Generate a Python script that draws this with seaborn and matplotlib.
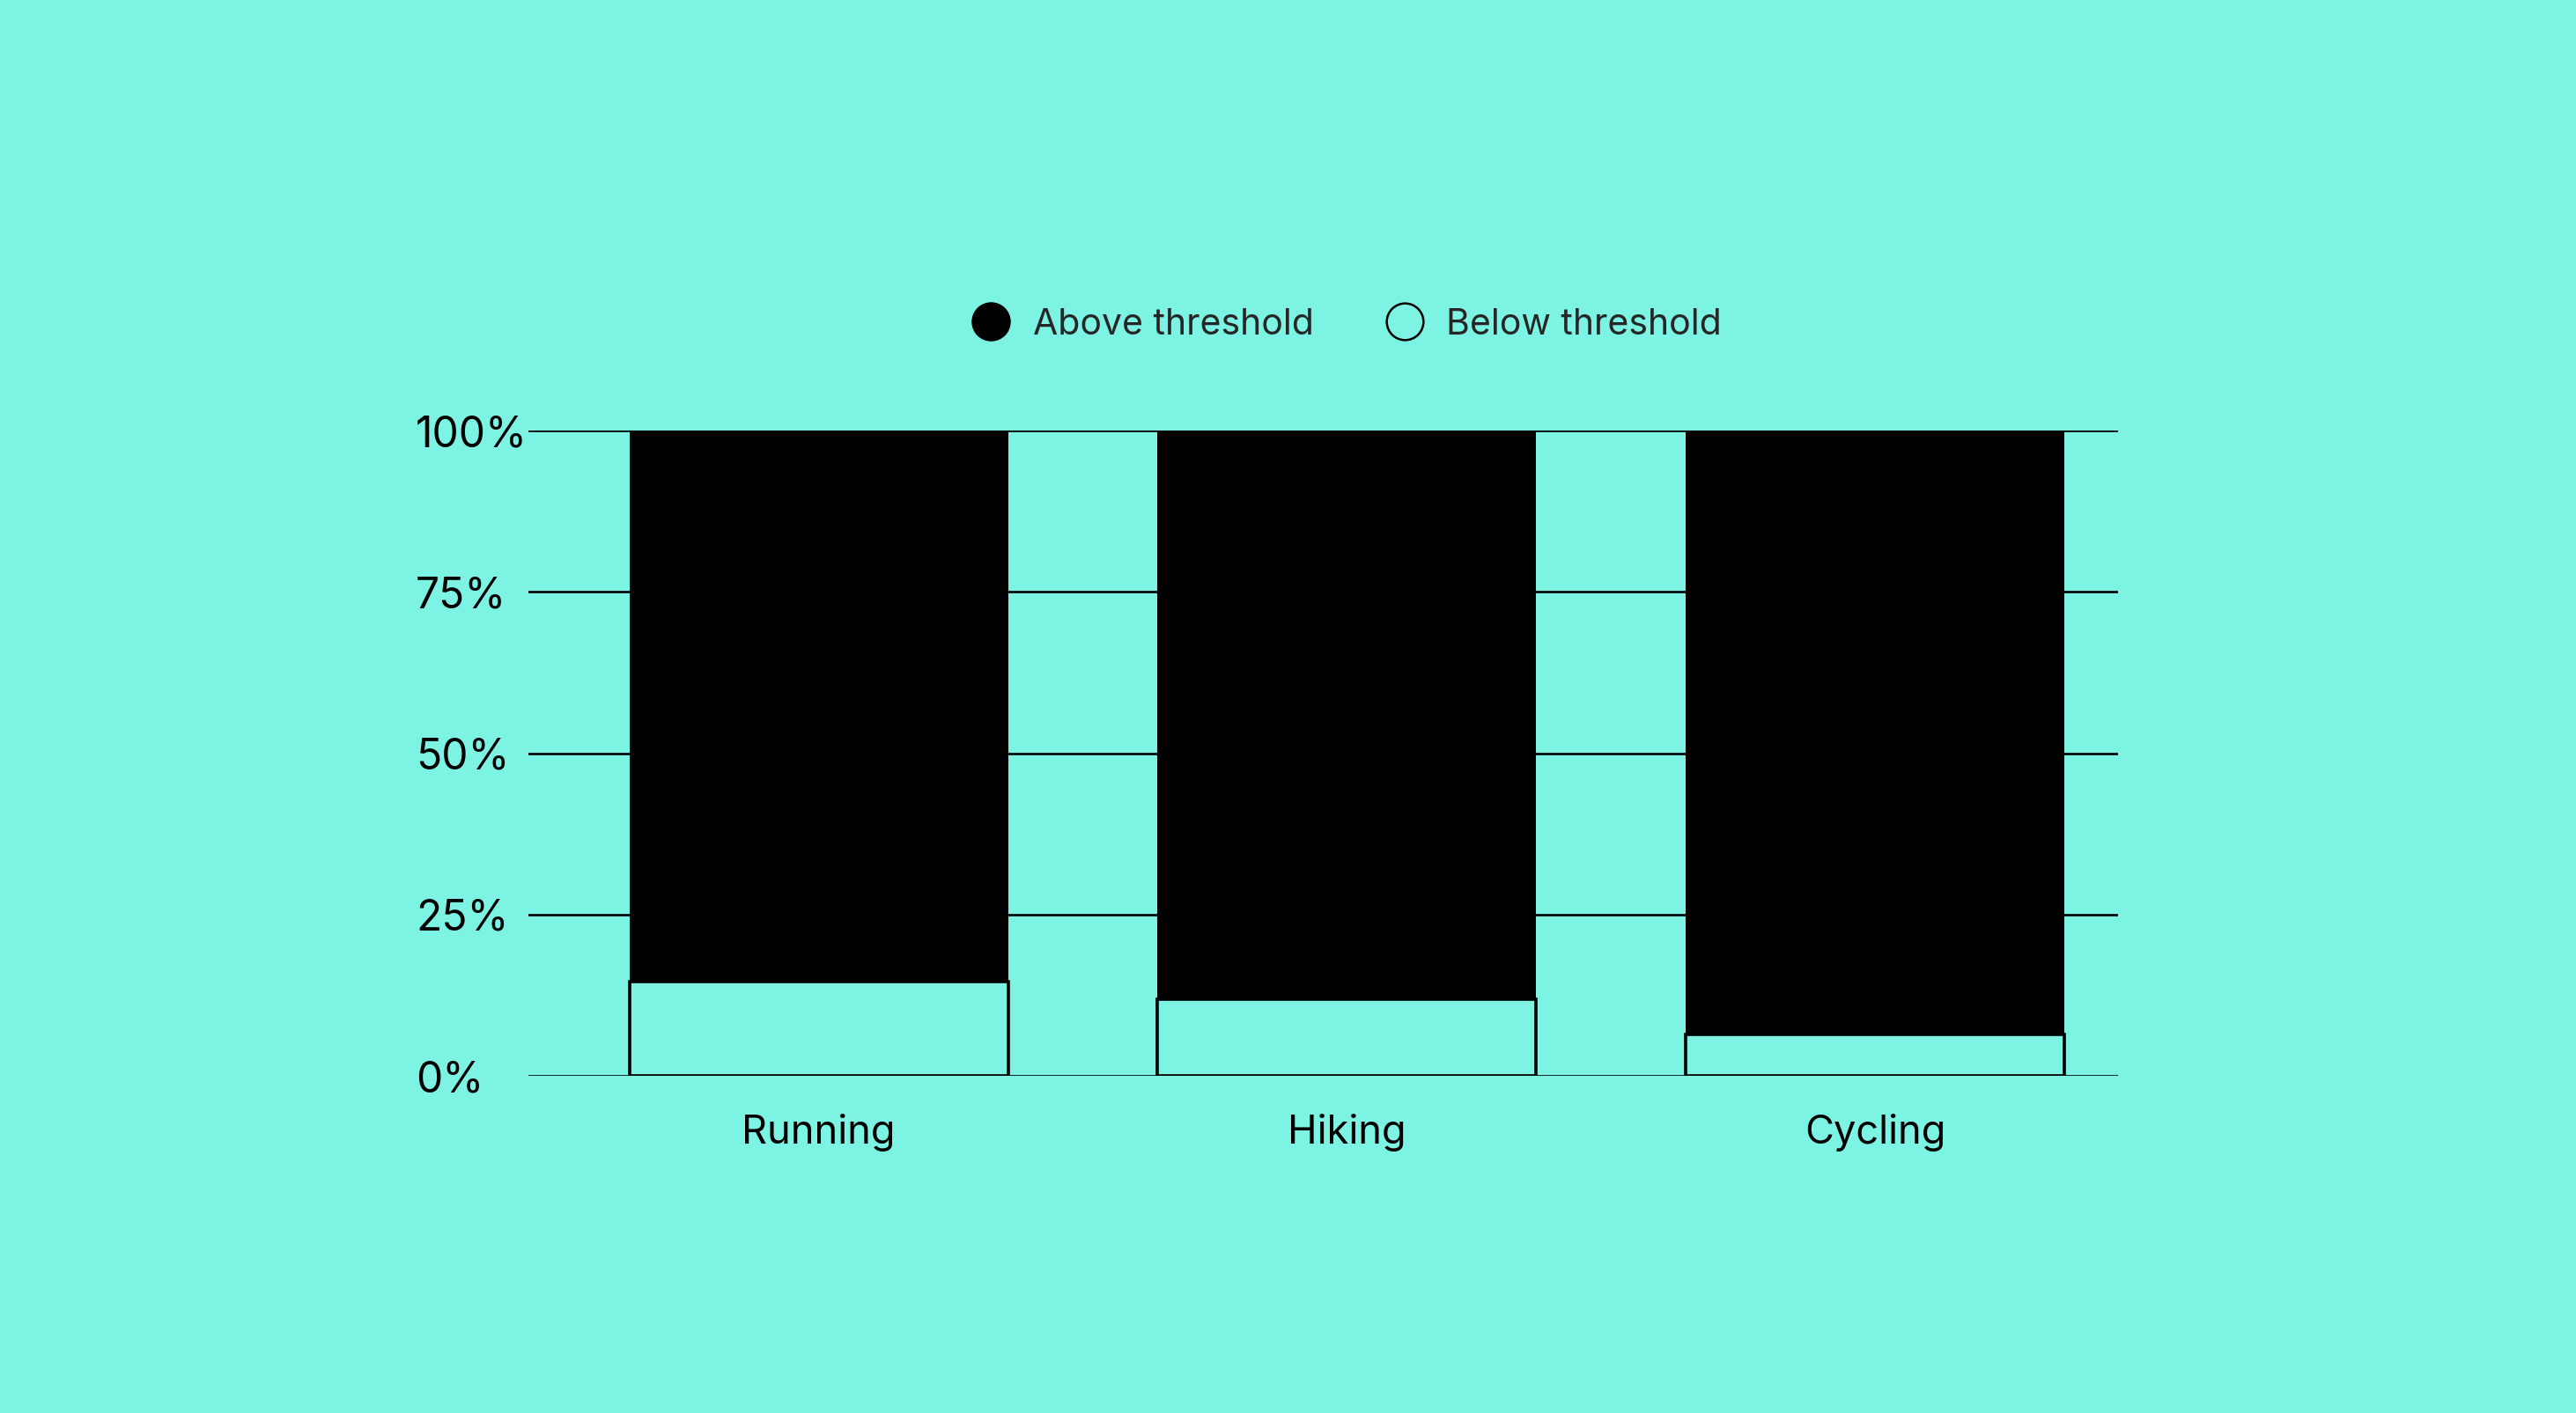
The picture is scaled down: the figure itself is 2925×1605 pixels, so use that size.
import numpy as np
import pandas as pd
import seaborn as sns
import matplotlib.pyplot as plt
from matplotlib.lines import Line2D
from matplotlib.transforms import blended_transform_factory

activities = ['Running', 'Hiking', 'Cycling']
below_threshold = [14.6, 11.9, 6.4]
above_threshold = [85.4, 88.1, 93.6]
y_ticks = [0, 25, 50, 75, 100]
y_tick_labels = ['0%', '25%', '50%', '75%', '100%']

bg = '#7df3e4'

df = pd.DataFrame({'activity': activities,
                   'below': below_threshold,
                   'above': above_threshold})
df['total'] = df['below'] + df['above']

sns.set_theme(style='white', rc={'axes.facecolor': bg, 'figure.facecolor': bg})
plt.rcParams['font.family'] = ['Inter', 'DejaVu Sans']

fig = plt.figure(figsize=(29.25, 16.05), dpi=100)
ax = fig.add_axes([0.2051, 0.2386, 0.6171, 0.4567])

# stacked look: full bar in black, "below" part drawn on top of it
sns.barplot(data=df, x='activity', y='total', color='black', saturation=1,
            width=0.717, edgecolor='black', linewidth=0, ax=ax, zorder=2)
sns.barplot(data=df, x='activity', y='below', color=bg, saturation=1,
            width=0.717, edgecolor='black', linewidth=2.6, ax=ax, zorder=3)

ax.set_xlim(-0.55, 2.46)
ax.set_ylim(0, 100)
ax.set_yticks(y_ticks)
ax.set_yticklabels(y_tick_labels)
ax.set_xlabel('')
ax.set_ylabel('')
ax.set_axisbelow(True)
ax.yaxis.grid(True, color='black', linewidth=1.9)
ax.xaxis.grid(False)
for s in ax.spines.values():
    s.set_visible(False)

ax.tick_params(axis='y', length=0, pad=92, labelsize=34.5, colors='black')
ax.tick_params(axis='x', length=0, pad=31, labelsize=32.5, colors='black')
for lab in ax.get_yticklabels():
    lab.set_ha('left')

handles = [
    Line2D([], [], marker='o', linestyle='none', markersize=31,
           markerfacecolor='black', markeredgecolor='black'),
    Line2D([], [], marker='o', linestyle='none', markersize=30,
           markerfacecolor='none', markeredgecolor='black', markeredgewidth=1.8),
]
trans = blended_transform_factory(ax.transData, ax.transAxes)
ax.legend(handles, ['Above threshold', 'Below threshold'], ncol=2,
          loc='center', bbox_to_anchor=(1.0, 1.164), bbox_transform=trans,
          frameon=False, fontsize=29.5, handlelength=1.03, handletextpad=0.65,
          columnspacing=2.0, borderpad=0, borderaxespad=0)

fig.savefig('out.png', dpi=100, facecolor=bg)
